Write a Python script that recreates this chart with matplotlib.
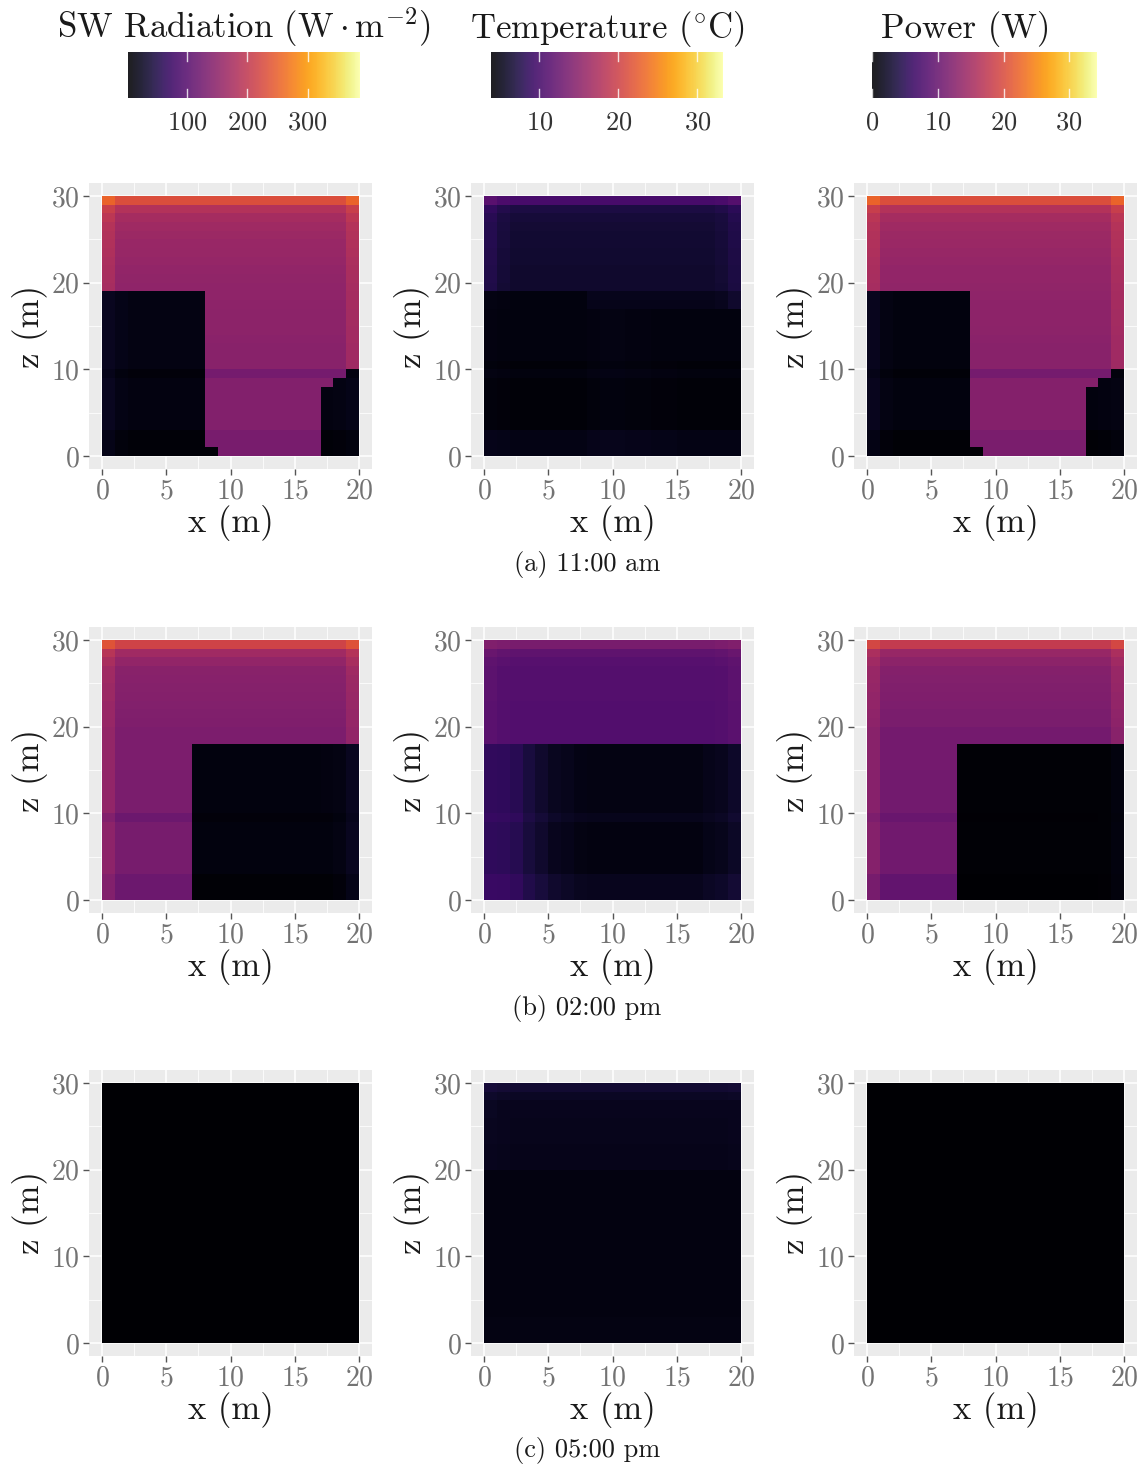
import numpy as np
import matplotlib
matplotlib.use("Agg")
import matplotlib.pyplot as plt
from matplotlib import colors

plt.rcParams.update({
    "font.family": ["cmr10", "DejaVu Serif"],
    "mathtext.fontset": "cm",
    "axes.formatter.use_mathtext": True,
    "axes.unicode_minus": False,
})

# ---- simulation grid: 20 columns (x) by 30 layers (z), 1 m cells ----
n_x, n_z = 20, 30
x_edges = np.arange(n_x + 1)
z_edges = np.arange(n_z + 1)

captions = ["(a) 11:00 am", "(b) 02:00 pm", "(c) 05:00 pm"]
quantities = [r"SW Radiation ($\mathrm{W}\cdot\mathrm{m}^{-2}$)",
              r"Temperature ($^{\circ}$C)",
              "Power (W)"]
limits = [(1.5, 387.0), (3.9, 33.2), (0.0, 34.2)]
cbar_ticks = [[100, 200, 300], [10, 20, 30], [0, 10, 20, 30]]

# Each field: cells with z >= top[x] are sunlit, the rest are shaded.
# sun / shade: profiles along z (bottom -> top); *_col: offsets along x.

# --- 11:00 am ---
sw_11_top = [19, 19, 19, 19, 19, 19, 19, 19, 1, 0, 0, 0, 0, 0, 0, 0, 0, 8, 9, 10]
sw_11_sun = [131, 131, 131, 140, 140, 140, 140, 140, 140, 127, 145, 146, 146, 147, 148,
             149, 149, 150, 151, 152, 153, 155, 157, 159, 161, 163, 166, 173, 186, 230]
sw_11_sun_col = [22, 0, 0, 0, 0, 0, 0, 0, 0, 0, 0, 0, 0, 0, 0, 0, 0, 0, 0, 22]
sw_11_shade = [7, 7, 7, 13, 13, 13, 13, 13, 13, 9, 14, 14, 14, 14, 14,
               14, 14, 14, 14, 14, 14, 14, 14, 14, 14, 14, 14, 14, 14, 14]
sw_11_shade_col = [10, 3, 0, 0, 0, 0, 0, 0, 0, 0, 0, 0, 0, 0, 0, 0, 0, 0, 1, 4]

t_11_top = [19, 19, 19, 19, 19, 19, 19, 19, 17, 17, 17, 17, 17, 17, 17, 17, 17, 17, 17, 17]
t_11_sun = [5.0, 5.0, 5.0, 5.0, 5.0, 5.0, 5.0, 5.0, 5.0, 5.0, 5.0, 5.0, 5.0, 5.0, 5.0,
            5.0, 5.0, 5.2, 5.3, 6.2, 6.3, 6.3, 6.4, 6.4, 6.5, 6.5, 6.6, 6.8, 7.3, 10.1]
t_11_sun_col = [1.3, 0.4, 0, 0, 0, 0, 0, 0, 0, 0, 0, 0, 0, 0, 0, 0, 0, 0, 0.3, 1.0]
t_11_shade = [5.0, 5.0, 5.0, 4.3, 4.3, 4.3, 4.3, 4.3, 4.3, 4.7, 4.3, 4.6, 4.6, 4.6, 4.6,
              4.6, 4.6, 4.7, 4.7, 4.6, 4.6, 4.6, 4.6, 4.6, 4.6, 4.6, 4.6, 4.6, 4.6, 4.6]
t_11_shade_col = [0.2, 0.1, 0, 0, 0, 0, 0, 0, 0.2, 0.3, 0.3, 0.2, 0.2, 0.1, 0.1, 0, 0, 0, 0, 0]

p_11_top = [19, 19, 19, 19, 19, 19, 19, 19, 1, 0, 0, 0, 0, 0, 0, 0, 0, 8, 9, 10]
p_11_sun = [11.5, 11.5, 11.5, 12.3, 12.3, 12.3, 12.3, 12.3, 12.3, 11.1, 12.7, 12.8, 12.8, 12.9, 13.0,
            13.1, 13.1, 13.2, 13.3, 13.4, 13.5, 13.6, 13.8, 14.0, 14.2, 14.3, 14.6, 15.2, 16.4, 20.3]
p_11_sun_col = [1.9, 0, 0, 0, 0, 0, 0, 0, 0, 0, 0, 0, 0, 0, 0, 0, 0, 0, 0, 1.9]
p_11_shade = [0.4, 0.4, 0.4, 0.9, 0.9, 0.9, 0.9, 0.9, 0.9, 0.5, 0.9, 0.9, 0.9, 0.9, 0.9,
              0.9, 0.9, 0.9, 0.9, 0.9, 0.9, 0.9, 0.9, 0.9, 0.9, 0.9, 0.9, 0.9, 0.9, 0.9]
p_11_shade_col = [0.9, 0.2, 0, 0, 0, 0, 0, 0, 0, 0, 0, 0, 0, 0, 0, 0, 0, 0, 0.1, 0.3]

# --- 02:00 pm ---
sw_14_top = [0, 0, 0, 0, 0, 0, 0, 18, 18, 18, 18, 18, 18, 18, 18, 18, 18, 18, 18, 18]
sw_14_sun = [118, 118, 118, 128, 128, 128, 128, 128, 128, 118, 132, 132, 132, 132, 132,
             134, 134, 134, 134, 134, 137, 138, 139, 141, 142, 144, 146, 155, 168, 214]
sw_14_sun_col = [22, 0, 0, 0, 0, 0, 0, 0, 0, 0, 0, 0, 0, 0, 0, 0, 0, 0, 0, 20]
sw_14_shade = [5, 5, 5, 11, 11, 11, 11, 11, 11, 8, 12, 12, 12, 12, 12,
               12, 12, 12, 12, 12, 12, 12, 12, 12, 12, 12, 12, 12, 12, 12]
sw_14_shade_col = [0, 0, 0, 0, 0, 0, 0, 0, 0, 0, 0, 0, 0, 0, 0, 0, 0, 1, 3, 12]

t_14_top = [18, 18, 18, 18, 18, 18, 18, 18, 18, 18, 18, 18, 18, 18, 18, 18, 18, 18, 18, 18]
t_14_sun = [10.9, 10.9, 10.9, 10.9, 10.9, 10.9, 10.9, 10.9, 10.9, 10.9, 10.9, 10.9, 10.9, 10.9, 10.9,
            10.9, 10.9, 10.9, 10.9, 10.9, 10.9, 10.9, 10.9, 11.0, 11.0, 11.0, 11.0, 11.3, 11.9, 13.7]
t_14_sun_col = [0.6, 0.2, 0, 0, 0, 0, 0, 0, 0, 0, 0, 0, 0, 0, 0, 0, 0, 0, 0.2, 0.6]
t_14_shade = [5.5, 5.5, 5.5, 4.8, 4.8, 4.8, 4.8, 4.8, 4.8, 5.3, 4.9, 4.9, 4.9, 4.9, 4.9,
              4.9, 4.9, 4.9, 4.9, 4.9, 4.9, 4.9, 4.9, 4.9, 4.9, 4.9, 4.9, 4.9, 4.9, 4.9]
t_14_shade_col = [3.7, 3.6, 3.2, 2.1, 1.4, 0.7, 0.4, 0.1, 0, 0, 0, 0, 0, 0, 0, 0, 0, 0.3, 0.5, 1.1]

p_14_top = [0, 0, 0, 0, 0, 0, 0, 18, 18, 18, 18, 18, 18, 18, 18, 18, 18, 18, 18, 18]
p_14_sun = [9.6, 9.6, 9.6, 10.8, 10.8, 10.8, 10.8, 10.8, 10.8, 10.1, 10.9, 10.9, 10.9, 10.9, 10.9,
            11.0, 11.0, 11.0, 11.0, 11.0, 11.5, 11.6, 11.8, 11.9, 12.1, 12.2, 12.4, 13.0, 14.0, 17.8]
p_14_sun_col = [1.7, 0, 0, 0, 0, 0, 0, 0, 0, 0, 0, 0, 0, 0, 0, 0, 0, 0, 0, 1.7]
p_14_shade = [0.1, 0.1, 0.1, 0.3, 0.3, 0.3, 0.3, 0.3, 0.3, 0.2, 0.3, 0.3, 0.3, 0.3, 0.3,
              0.3, 0.3, 0.3, 0.3, 0.3, 0.3, 0.3, 0.3, 0.3, 0.3, 0.3, 0.3, 0.3, 0.3, 0.3]
p_14_shade_col = [0, 0, 0, 0, 0, 0, 0, 0, 0, 0, 0, 0, 0, 0, 0, 0, 0, 0, 0.1, 0.6]

# --- 05:00 pm ---
sw_17_top = [30, 30, 30, 30, 30, 30, 30, 30, 30, 30, 30, 30, 30, 30, 30, 30, 30, 30, 30, 30]
sw_17_sun = [0.5] * n_z
sw_17_sun_col = [0.0] * n_x
sw_17_shade = [0.5] * n_z
sw_17_shade_col = [0.0] * n_x

t_17_top = [20, 20, 20, 20, 20, 20, 20, 20, 20, 20, 20, 20, 20, 20, 20, 20, 20, 20, 20, 20]
t_17_sun = [4.8, 4.8, 4.8, 4.8, 4.8, 4.8, 4.8, 4.8, 4.8, 4.8, 4.8, 4.8, 4.8, 4.8, 4.8,
            4.8, 4.8, 4.8, 4.8, 4.8, 5.2, 5.2, 5.2, 5.3, 5.3, 5.3, 5.4, 5.4, 5.8, 6.5]
t_17_sun_col = [0.3, 0.1, 0, 0, 0, 0, 0, 0, 0, 0, 0, 0, 0, 0, 0, 0, 0, 0, 0, 0.1]
t_17_shade = [4.9, 4.9, 4.9, 4.8, 4.8, 4.8, 4.8, 4.8, 4.8, 4.8, 4.8, 4.8, 4.8, 4.8, 4.8,
              4.8, 4.8, 4.8, 4.8, 4.8, 4.8, 4.8, 4.8, 4.8, 4.8, 4.8, 4.8, 4.8, 4.8, 4.8]
t_17_shade_col = [0.0] * n_x

p_17_top = [30, 30, 30, 30, 30, 30, 30, 30, 30, 30, 30, 30, 30, 30, 30, 30, 30, 30, 30, 30]
p_17_sun = [0.0] * n_z
p_17_sun_col = [0.0] * n_x
p_17_shade = [0.0] * n_z
p_17_shade_col = [0.0] * n_x


def assemble(top, sun, sun_col, shade, shade_col):
    """Combine the sunlit/shaded profiles into a (z, x) field."""
    zz = np.arange(n_z)[:, None]
    lit = zz >= np.asarray(top)[None, :]
    sunlit = np.asarray(sun, float)[:, None] + np.asarray(sun_col, float)[None, :]
    shaded = np.asarray(shade, float)[:, None] + np.asarray(shade_col, float)[None, :]
    return np.where(lit, sunlit, shaded)


fields = [
    [assemble(sw_11_top, sw_11_sun, sw_11_sun_col, sw_11_shade, sw_11_shade_col),
     assemble(t_11_top, t_11_sun, t_11_sun_col, t_11_shade, t_11_shade_col),
     assemble(p_11_top, p_11_sun, p_11_sun_col, p_11_shade, p_11_shade_col)],
    [assemble(sw_14_top, sw_14_sun, sw_14_sun_col, sw_14_shade, sw_14_shade_col),
     assemble(t_14_top, t_14_sun, t_14_sun_col, t_14_shade, t_14_shade_col),
     assemble(p_14_top, p_14_sun, p_14_sun_col, p_14_shade, p_14_shade_col)],
    [assemble(sw_17_top, sw_17_sun, sw_17_sun_col, sw_17_shade, sw_17_shade_col),
     assemble(t_17_top, t_17_sun, t_17_sun_col, t_17_shade, t_17_shade_col),
     assemble(p_17_top, p_17_sun, p_17_sun_col, p_17_shade, p_17_shade_col)],
]

# ---- layout ----
W, H = 1147, 1468
fig = plt.figure(figsize=(W / 100, H / 100), dpi=100)

col_left = [89.2, 471.2, 854.2]
row_top = [183, 627, 1070]
ax_w, ax_h = 282.7, 286.0
caption_y = [565, 1008, 1451]

tick_grey = "#737373"
label_col = "#1a1a1a"

for r in range(3):
    for c in range(3):
        ax = fig.add_axes([col_left[c] / W, 1 - (row_top[r] + ax_h) / H, ax_w / W, ax_h / H])
        ax.set_facecolor("#ebebeb")
        for s in ax.spines.values():
            s.set_visible(False)
        vmin, vmax = limits[c]
        ax.pcolormesh(x_edges, z_edges, fields[r][c], cmap="inferno",
                      vmin=vmin, vmax=vmax, shading="flat", zorder=2)
        ax.set_xlim(-1, 21)
        ax.set_ylim(-1.5, 31.5)
        ax.set_xticks([0, 5, 10, 15, 20])
        ax.set_xticks([2.5, 7.5, 12.5, 17.5], minor=True)
        ax.set_yticks([0, 10, 20, 30])
        ax.set_yticks([5, 15, 25], minor=True)
        ax.grid(True, which="major", color="white", lw=1.1, zorder=1)
        ax.grid(True, which="minor", color="white", lw=0.55, zorder=1)
        ax.set_axisbelow(True)
        ax.tick_params(which="major", length=4.5, width=1.0, color="#555555",
                       labelsize=20, labelcolor=tick_grey, pad=2)
        ax.tick_params(which="minor", length=0)
        ax.set_xlabel("x (m)", fontsize=25, color=label_col)
        ax.set_ylabel("z (m)", fontsize=25, color=label_col)
        ax.xaxis.set_label_coords(0.5, -0.125)
        ax.yaxis.set_label_coords(-0.145, 0.5)
    fig.text(587 / W, 1 - caption_y[r] / H, captions[r], fontsize=19,
             ha="center", va="center", color=label_col)

# ---- colour bars ----
cbar_left = [128, 491, 872.3]
cbar_width = [232, 231.7, 224.4]
cbar_top, cbar_h = 52, 46
title_x = [243.5, 607, 965.5]

for c in range(3):
    cax = fig.add_axes([cbar_left[c] / W, 1 - (cbar_top + cbar_h) / H,
                        cbar_width[c] / W, cbar_h / H])
    sm = plt.cm.ScalarMappable(norm=colors.Normalize(*limits[c]), cmap="inferno")
    cb = fig.colorbar(sm, cax=cax, orientation="horizontal", alpha=0.88)
    cb.outline.set_visible(False)
    cb.set_ticks(cbar_ticks[c])
    cax.tick_params(length=0, labelsize=19, labelcolor="#333333", pad=9)
    for t in cbar_ticks[c]:
        cax.axvline(t, 0, 0.2, color="white", lw=1.0, alpha=0.8)
        cax.axvline(t, 0.8, 1, color="white", lw=1.0, alpha=0.8)
    fig.text(title_x[c] / W, 1 - 38 / H, quantities[c], fontsize=25,
             ha="center", va="baseline", color=label_col)

fig.savefig("out.png", dpi=100, facecolor="white")
